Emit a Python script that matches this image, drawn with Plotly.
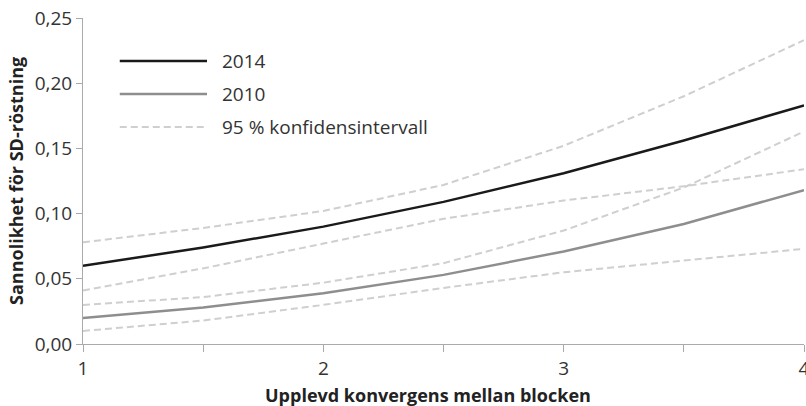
import plotly.graph_objects as go

# Upplevd konvergens (x) och sannolikhet för SD-röstning
x = [1, 1.5, 2, 2.5, 3, 3.5, 4]

y2014 = [0.060, 0.074, 0.090, 0.109, 0.131, 0.156, 0.183]
y2014_upper = [0.078, 0.089, 0.102, 0.122, 0.152, 0.190, 0.233]
y2014_lower = [0.041, 0.058, 0.077, 0.096, 0.110, 0.121, 0.134]

y2010 = [0.020, 0.028, 0.039, 0.053, 0.071, 0.092, 0.118]
y2010_upper = [0.030, 0.036, 0.047, 0.062, 0.087, 0.120, 0.163]
y2010_lower = [0.010, 0.018, 0.030, 0.043, 0.055, 0.064, 0.073]

legend_labels = ['2014', '2010', '95 % konfidensintervall']

font = 'Open Sans'
ci_color = '#cfcfcf'
txt_color = '#333333'

fig = go.Figure()

for ci in [y2014_upper, y2014_lower, y2010_upper, y2010_lower]:
    fig.add_trace(go.Scatter(x=x, y=ci, mode='lines',
                             line=dict(color=ci_color, width=2, dash='7px,4px'),
                             showlegend=False, hoverinfo='skip'))

fig.add_trace(go.Scatter(x=x, y=y2010, mode='lines',
                         line=dict(color='#8e8e8e', width=2.5), showlegend=False))
fig.add_trace(go.Scatter(x=x, y=y2014, mode='lines',
                         line=dict(color='#1a1a1a', width=2.5), showlegend=False))

# egen legend: linjer + text
leg_styles = [dict(color='#1a1a1a', width=2.5),
              dict(color='#8e8e8e', width=2.5),
              dict(color=ci_color, width=2, dash='7px,4px')]
leg_y = [0.868, 0.767, 0.666]
for lbl, st, yy in zip(legend_labels, leg_styles, leg_y):
    fig.add_shape(type='line', xref='paper', yref='paper',
                  x0=0.051, x1=0.172, y0=yy, y1=yy, line=st)
    fig.add_annotation(xref='paper', yref='paper', x=0.19, y=yy,
                       text=lbl, showarrow=False, xanchor='left', yanchor='middle',
                       font=dict(family=font, size=19, color=txt_color))

# axeltitlar
fig.add_annotation(xref='paper', yref='paper', x=0.479, y=-0.156,
                   text='<b>Upplevd konvergens mellan blocken</b>', showarrow=False,
                   xanchor='center', yanchor='middle',
                   font=dict(family=font, size=18, color='#222222'))
fig.add_annotation(xref='paper', yref='paper', x=-0.093, y=0.5,
                   text='<b>Sannolikhet för SD-röstning</b>', showarrow=False,
                   textangle=-90, xanchor='center', yanchor='middle',
                   font=dict(family=font, size=18, color='#222222'))

fig.update_layout(
    width=806, height=406,
    margin=dict(l=83, r=2, t=18, b=62),
    plot_bgcolor='white', paper_bgcolor='white',
    separators=', ',
    font=dict(family=font, size=19, color=txt_color),
    showlegend=False,
)

fig.update_xaxes(
    range=[1, 4],
    tickvals=[1, 1.5, 2, 2.5, 3, 3.5, 4],
    ticktext=['1', '', '2', '', '3', '', '4'],
    ticks='outside', ticklen=7, tickcolor='#aaaaaa',
    showline=True, linecolor='#aaaaaa', linewidth=1,
    showgrid=False, zeroline=False, automargin=False,
    ticklabeloverflow='allow',
    tickfont=dict(family=font, size=19, color=txt_color),
)

fig.update_yaxes(
    range=[0, 0.25],
    tickvals=[0, 0.05, 0.10, 0.15, 0.20, 0.25],
    tickformat='.2f',
    ticks='outside', ticklen=6, tickcolor='#aaaaaa',
    showline=True, linecolor='#aaaaaa', linewidth=1,
    showgrid=False, zeroline=False, automargin=False,
    ticklabeloverflow='allow',
    tickfont=dict(family=font, size=19, color=txt_color),
)

# ingen sidmarginal, så att figuren fyller fönstret exakt
fig.write_html("out.html",
               config={'displayModeBar': False},
               post_script="document.body.style.margin='0';"
                           "document.body.style.overflow='hidden';")
